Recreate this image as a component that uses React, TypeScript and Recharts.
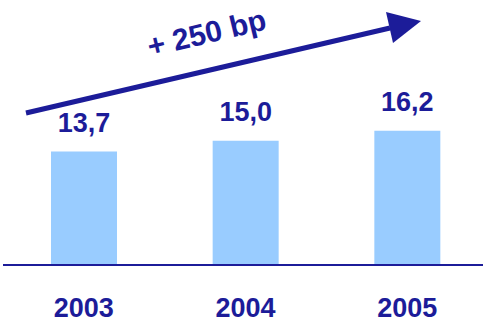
import { BarChart, Bar, XAxis, YAxis, LabelList } from "recharts";

const years = ["2003", "2004", "2005"];
const values = [13.7, 15.0, 16.2];
const arrowLabel = "+ 250 bp";

const NAVY = "#1c1c99";
const BAR = "#99ccff";
const FONT = "'Liberation Sans', Arial, sans-serif";

const data = years.map((year, i) => ({ year, value: values[i] }));

export default function App() {
  return (
    <div
      style={{
        position: "absolute",
        left: 0,
        top: 0,
        width: 483,
        height: 323,
        overflow: "hidden",
        fontFamily: FONT,
        background: "#fff",
      }}
    >
      <BarChart
        width={483}
        height={323}
        data={data}
        margin={{ top: 0, right: -5, bottom: 0, left: 3 }}
        barCategoryGap={0}
      >
        <XAxis
          dataKey="year"
          height={58}
          axisLine={{ stroke: NAVY, strokeWidth: 2 }}
          tickLine={false}
          tickMargin={27}
          tick={{ fill: NAVY, fontSize: 27, fontWeight: "bold", fontFamily: FONT }}
        />
        <YAxis hide domain={[0, 32]} />
        <Bar dataKey="value" fill={BAR} barSize={66} isAnimationActive={false}>
          <LabelList
            dataKey="value"
            position="top"
            offset={20}
            formatter={(v: number) => v.toFixed(1).replace(".", ",")}
            style={{ fill: NAVY, fontSize: 27, fontWeight: "bold", fontFamily: FONT }}
          />
        </Bar>
      </BarChart>
      {/* trend arrow annotation */}
      <svg
        width={483}
        height={323}
        style={{ position: "absolute", left: 0, top: 0, pointerEvents: "none" }}
      >
        <line x1={26} y1={113} x2={390} y2={28} stroke={NAVY} strokeWidth={5} />
        <polygon points="386,12 421,21 393,43" fill={NAVY} />
        <text
          x={209}
          y={43}
          textAnchor="middle"
          transform="rotate(-13.5 209 43)"
          fill={NAVY}
          fontSize={30}
          fontWeight="bold"
          fontFamily={FONT}
        >
          {arrowLabel}
        </text>
      </svg>
    </div>
  );
}
